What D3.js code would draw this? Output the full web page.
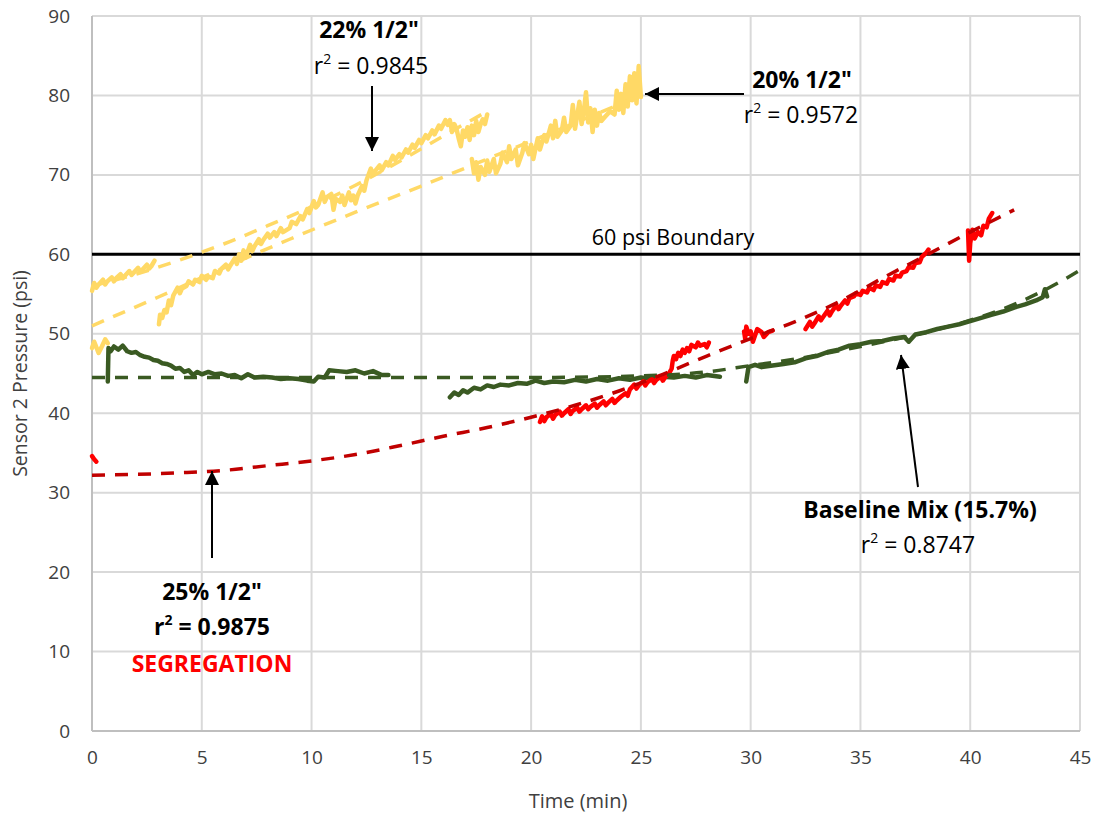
<!DOCTYPE html>
<html><head><meta charset="utf-8">
<script src="https://cdn.jsdelivr.net/npm/d3@7"></script>
<style>body{margin:0;background:#fff}svg{display:block}text{font-family:"Open Sans",sans-serif}</style>
</head><body><div id="chart"></div>
<script>
// ---------- DATA ----------
const xTicks = [0,5,10,15,20,25,30,35,40,45];
const yTicks = [0,10,20,30,40,50,60,70,80,90];
const boundaryPsi = 60;

// 22% 1/2" (yellow)
const mix22_a = [[0,55.4],[0.1,56.4],[0.2,55.8],[0.3,56.2],[0.5,56.8],[0.6,56.2],[0.7,56.6],[0.9,57.1],[1.0,56.6],[1.1,57.0],[1.3,57.5],[1.4,57.0],[1.5,57.3],[1.7,57.9],[1.8,57.4],[1.9,57.7],[2.1,58.3],[2.2,57.8],[2.3,58.1],[2.5,58.7],[2.6,58.2],[2.7,58.5],[2.85,59.2]];
const mix22_b = [[3.05,51.2],[3.1,52.4],[3.2,52.0],[3.3,53.0],[3.4,52.7],[3.5,54.2],[3.6,53.6],[3.7,54.8],[3.9,55.8],[4.0,55.1],[4.1,55.7],[4.3,56.0],[4.4,56.6],[4.6,56.2],[4.7,56.8],[4.9,56.5],[5.0,57.3],[5.2,56.8],[5.3,57.2],[5.5,57.0],[5.6,57.9],[5.8,57.6],[5.9,58.2],[6.1,58.7],[6.2,58.1],[6.3,58.6],[6.5,59.5],[6.6,58.8],[6.7,60.0],[6.8,59.2],[6.9,60.5],[7.0,59.6],[7.2,61.2],[7.3,60.4],[7.4,61.0],[7.6,61.9],[7.7,61.3],[7.8,61.8],[8.0,62.6],[8.1,62.1],[8.3,62.8],[8.4,62.3],[8.6,63.3],[8.7,62.8],[9.0,63.3],[9.1,64.1],[9.3,63.8],[9.5,64.8],[9.6,64.4],[9.8,65.7],[9.9,65.2],[10.1,66.7],[10.2,65.9],[10.3,66.2],[10.5,67.8],[10.6,66.6],[10.7,67.2],[10.9,67.6],[11.0,65.6],[11.1,67.0],[11.3,66.6],[11.4,67.4],[11.5,66.2],[11.7,67.8],[11.8,66.8],[11.9,67.4],[12.0,66.4],[12.1,67.4],[12.3,68.6],[12.4,68.0],[12.5,69.3],[12.7,70.8],[12.8,70.0],[12.9,70.5],[13.1,71.2],[13.2,70.6],[13.4,71.6],[13.5,71.2],[13.7,72.4],[13.8,71.9],[14.0,72.6],[14.1,72.2],[14.3,73.2],[14.4,72.8],[14.6,73.8],[14.7,73.4],[14.9,74.4],[15.0,74.0],[15.2,75.0],[15.3,74.6],[15.5,75.6],[15.6,75.1],[15.8,76.2],[15.9,75.8],[16.1,76.9],[16.2,76.3],[16.3,76.9],[16.4,75.4],[16.5,76.4],[16.6,75.8],[16.7,74.6],[16.8,73.6],[16.9,75.6],[17.0,74.8],[17.1,76.0],[17.2,74.4],[17.3,76.2],[17.4,75.0],[17.5,76.8],[17.6,75.4],[17.7,76.4],[17.8,77.0],[17.9,76.4],[18.0,77.6]];
const trend22 = [[0,56.0],[2,57.5],[4,59.3],[6,61.3],[8,63.6],[10,66.0],[12,68.7],[14,71.7],[16,74.9],[18,78.0]];

// 20% 1/2" (yellow)
const mix20_a = [[0,48.2],[0.1,49.0],[0.3,47.6],[0.45,48.4],[0.6,49.3],[0.72,48.8]];
const mix20_b = [[17.3,72.0],[17.4,70.2],[17.5,71.6],[17.6,69.4],[17.7,71.0],[17.9,70.0],[18.0,71.8],[18.1,70.4],[18.3,72.0],[18.4,70.2],[18.6,71.4],[18.7,72.8],[18.9,71.6],[19.0,73.6],[19.1,72.0],[19.3,73.2],[19.4,71.2],[19.6,72.8],[19.7,74.0],[19.9,72.6],[20.0,73.8],[20.1,72.0],[20.3,74.6],[20.4,73.2],[20.6,75.0],[20.7,74.2],[20.9,76.2],[21.0,74.6],[21.1,76.8],[21.2,74.8],[21.4,75.6],[21.5,77.2],[21.6,75.4],[21.8,76.2],[21.9,78.8],[22.0,75.8],[22.2,79.2],[22.3,76.4],[22.4,78.0],[22.5,80.4],[22.6,76.6],[22.7,78.4],[22.8,75.4],[22.9,78.2],[23.0,76.2],[23.1,77.8],[23.2,76.8],[23.4,77.4],[23.6,78.0],[23.8,77.6],[23.9,80.6],[24.0,78.2],[24.1,80.2],[24.2,77.8],[24.3,81.4],[24.4,78.6],[24.5,82.4],[24.6,79.4],[24.7,82.8],[24.8,79.0],[24.9,83.7],[25.0,79.8]];
const trend20 = [[0,51.0],[3,54.6],[6,58.3],[9,61.9],[12,65.3],[15,68.6],[18,72.0],[21,75.4],[25,80.0]];

// 25% 1/2" (red)
const mix25_a = [[0,34.6],[0.1,34.2],[0.2,33.9]];
const mix25_b = [[20.4,38.9],[20.5,39.6],[20.6,39.0],[20.7,39.5],[20.9,39.9],[21.0,39.3],[21.1,39.8],[21.3,40.2],[21.4,39.7],[21.5,40.0],[21.7,40.5],[21.8,39.9],[21.9,40.3],[22.1,40.7],[22.2,40.2],[22.3,40.5],[22.5,41.0],[22.6,40.5],[22.7,40.8],[22.9,41.2],[23.0,40.7],[23.1,41.0],[23.3,41.5],[23.4,41.0],[23.5,41.3],[23.7,41.8],[23.8,41.3],[23.9,41.6],[24.1,42.1],[24.3,42.5],[24.4,42.2],[24.5,43.0],[24.7,43.6],[24.8,43.1],[24.9,43.5],[25.1,44.0],[25.2,43.5],[25.3,43.9],[25.5,44.3],[25.6,43.8],[25.7,44.2],[25.9,44.6],[26.0,44.1],[26.1,44.5],[26.3,45.1],[26.4,45.6],[26.45,46.6],[26.5,47.2],[26.6,46.8],[26.7,47.6],[26.8,47.2],[26.9,48.0],[27.0,47.6],[27.1,48.2],[27.2,47.8],[27.3,48.6],[27.5,48.3],[27.6,48.9],[27.7,48.5],[27.9,48.7],[28.0,48.3],[28.1,48.9]];
const mix25_c = [[29.7,50.3],[29.75,49.4],[29.8,50.9],[29.9,50.0],[30.0,50.3],[30.1,49.0],[30.3,50.6],[30.5,50.2],[30.6,49.6],[30.8,50.2],[31.0,50.4]];
const mix25_d = [[32.5,50.6],[32.7,51.5],[32.8,50.9],[32.9,51.3],[33.1,52.2],[33.2,51.7],[33.3,52.1],[33.5,52.9],[33.6,52.3],[33.7,52.8],[33.9,53.6],[34.0,53.1],[34.1,53.5],[34.3,54.2],[34.4,53.8],[34.5,54.5],[34.7,54.7],[34.8,55.1],[35.0,54.9],[35.1,55.4],[35.3,55.2],[35.4,55.8],[35.6,55.5],[35.7,56.1],[35.9,55.9],[36.0,56.5],[36.2,56.3],[36.3,56.9],[36.5,56.7],[36.6,57.3],[36.8,57.2],[36.9,57.7],[37.1,57.9],[37.2,58.4],[37.4,58.3],[37.5,58.9],[37.7,59.0],[37.8,59.7],[38.0,60.2],[38.1,60.6]];
const mix25_e = [[39.9,63.0],[39.95,59.2],[40.0,61.4],[40.1,63.1],[40.2,62.0],[40.35,62.8],[40.5,62.4],[40.6,63.6],[40.75,63.4],[40.85,64.5],[41.0,65.2]];
const trend25 = [[0,32.2],[2,32.3],[4,32.5],[6,32.8],[8,33.4],[10,34.0],[12,34.8],[14,35.9],[16,37.1],[18,38.2],[20,39.5],[22,41.0],[24,42.8],[26,44.9],[28,47.2],[30,49.4],[32,51.5],[34,54.0],[36,57.0],[38,59.9],[40,62.8],[42,65.6]];

// Baseline Mix 15.7% (green)
const base_a = [[0.72,44.0],[0.75,48.2],[0.85,47.8],[1.0,48.4],[1.2,48.0],[1.4,48.5],[1.6,47.8],[1.8,47.6],[2.0,47.7],[2.2,47.3],[2.4,47.1],[2.6,47.0],[2.8,46.7],[3.0,46.6],[3.2,46.3],[3.4,46.2],[3.6,46.0],[3.8,45.6],[4.0,45.7],[4.2,45.2],[4.4,45.4],[4.6,44.8],[4.8,45.2],[5.0,44.9],[5.3,45.2],[5.6,44.9],[5.9,45.0],[6.2,44.7],[6.5,44.8],[6.8,44.4],[7.1,44.9],[7.4,44.5],[7.8,44.6],[8.2,44.5],[8.6,44.3],[9.0,44.4],[9.4,44.3],[9.8,44.1],[10.1,44.0],[10.3,44.6],[10.6,44.5],[10.8,45.4],[11.2,45.3],[11.6,45.2],[12.0,45.4],[12.4,45.0],[12.8,45.3],[13.2,44.8],[13.5,44.8]];
const base_b = [[16.3,42.0],[16.5,42.6],[16.7,42.3],[16.9,42.9],[17.1,42.6],[17.4,43.2],[17.7,43.0],[18.0,43.5],[18.3,43.3],[18.6,43.6],[19.0,43.5],[19.4,43.8],[19.8,43.7],[20.2,44.1],[20.6,43.8],[21.0,44.0],[21.5,43.9],[22.0,44.2],[22.5,44.0],[23.0,44.3],[23.5,44.1],[24.0,44.4],[24.5,44.2],[25.0,44.5],[25.5,44.3],[26.0,44.6],[26.5,44.5],[27.0,44.7],[27.5,44.5],[28.0,44.8],[28.6,44.6]];
const base_c = [[29.8,44.0],[29.9,45.8],[30.2,46.1],[30.5,45.8],[31.0,46.0],[31.5,46.2],[32.0,46.4],[32.5,46.9],[33.0,47.2],[33.5,47.7],[34.0,48.0],[34.5,48.5],[35.0,48.7],[35.5,49.0],[36.0,49.1],[36.5,49.4],[37.0,49.6],[37.2,49.0],[37.5,49.9],[38.0,50.2],[38.5,50.6],[39.0,50.9],[39.5,51.2],[40.0,51.6],[40.5,52.0],[41.0,52.4],[41.5,52.8],[42.0,53.3],[42.5,53.7],[43.0,54.2],[43.3,54.6],[43.4,55.6],[43.5,54.7]];
const trendBase = [[0,44.5],[5,44.5],[10,44.5],[15,44.5],[20,44.5],[25,44.7],[28,45.2],[30,46.0],[32,46.8],[35,48.4],[38,50.2],[40,51.7],[42,53.7],[44,56.4],[45,58.0]];

// ---------- CHART ----------
const W = 1101, H = 816;
const m = {left: 92, right: 21, top: 16, bottom: 85};
const svg = d3.select("#chart").append("svg").attr("width", W).attr("height", H);
const x = d3.scaleLinear().domain([0,45]).range([m.left, W - m.right]);
const y = d3.scaleLinear().domain([0,90]).range([H - m.bottom, m.top]);

const defs = svg.append("defs");
defs.append("marker").attr("id","arr").attr("viewBox","0 0 10 10").attr("refX",10).attr("refY",5)
  .attr("markerWidth",7).attr("markerHeight",7).attr("markerUnits","strokeWidth").attr("orient","auto")
  .append("path").attr("d","M0,0 L10,5 L0,10 Z").attr("fill","#000");

// gridlines
svg.append("g").selectAll("line").data(yTicks.slice(1)).join("line")
  .attr("x1", x(0)).attr("x2", x(45)).attr("y1", d=>y(d)).attr("y2", d=>y(d))
  .attr("stroke","#d9d9d9").attr("stroke-width",2);
svg.append("g").selectAll("line").data(xTicks.slice(1)).join("line")
  .attr("x1", d=>x(d)).attr("x2", d=>x(d)).attr("y1", y(0)).attr("y2", y(90))
  .attr("stroke","#d9d9d9").attr("stroke-width",2);
svg.append("line").attr("x1",x(0)).attr("x2",x(0)).attr("y1",y(0)).attr("y2",y(90)).attr("stroke","#bfbfbf").attr("stroke-width",2);
svg.append("line").attr("x1",x(0)).attr("x2",x(45)).attr("y1",y(0)).attr("y2",y(0)).attr("stroke","#bfbfbf").attr("stroke-width",2);

const yAxis = svg.append("g").attr("transform",`translate(${x(0)},0)`)
  .call(d3.axisLeft(y).tickValues(yTicks).tickSize(0).tickPadding(22));
yAxis.select(".domain").remove();
yAxis.selectAll("text").attr("font-size",19).attr("fill","#404040").style("font-family","Open Sans");
const xAxis = svg.append("g").attr("transform",`translate(0,${y(0)})`)
  .call(d3.axisBottom(x).tickValues(xTicks).tickSize(0).tickPadding(20));
xAxis.select(".domain").remove();
xAxis.selectAll("text").attr("font-size",19).attr("fill","#404040").style("font-family","Open Sans");

svg.append("text").attr("x",(x(0)+x(45))/2 - 8).attr("y",808).attr("text-anchor","middle")
  .attr("font-size",20).attr("fill","#404040").text("Time (min)");
svg.append("text").attr("transform",`translate(27,${(y(0)+y(90))/2}) rotate(-90)`).attr("text-anchor","middle")
  .attr("font-size",19.5).attr("fill","#404040").text("Sensor 2 Pressure (psi)");

// 60 psi boundary
svg.append("line").attr("x1",x(0)).attr("x2",x(45)).attr("y1",y(boundaryPsi)).attr("y2",y(boundaryPsi))
  .attr("stroke","#000").attr("stroke-width",3);
svg.append("text").attr("x",673).attr("y",y(boundaryPsi)-9).attr("text-anchor","middle")
  .attr("font-size",21.5).attr("fill","#000").text("60 psi Boundary");

const line = d3.line().x(d=>x(d[0])).y(d=>y(d[1]));
const YEL = "#ffd966", GRN = "#3a5a22", RED = "#ff0000", DRED = "#c00000";
function data(seg, c){ svg.append("path").datum(seg).attr("d",line).attr("fill","none")
  .attr("stroke",c).attr("stroke-width",4.5).attr("stroke-linejoin","round").attr("stroke-linecap","round"); }
function trend(seg, c){ svg.append("path").datum(seg).attr("d",d3.line().curve(d3.curveMonotoneX).x(d=>x(d[0])).y(d=>y(d[1])))
  .attr("fill","none").attr("stroke",c).attr("stroke-width",3.5).attr("stroke-dasharray","13,10"); }

[base_a, base_b, base_c].forEach(s=>data(s,GRN));
[mix25_a, mix25_b, mix25_c, mix25_d, mix25_e].forEach(s=>data(s,RED));
[mix22_a, mix22_b].forEach(s=>data(s,YEL));
[mix20_a, mix20_b].forEach(s=>data(s,YEL));
trend(trendBase, GRN);
trend(trend25, DRED);
trend(trend22, YEL);
trend(trend20, YEL);

// annotations
function arrow(x1,y1,x2,y2){ svg.append("line").attr("x1",x1).attr("y1",y1).attr("x2",x2).attr("y2",y2)
  .attr("stroke","#000").attr("stroke-width",2).attr("marker-end","url(#arr)"); }
function label(cx, by, txt, opts={}){
  return svg.append("text").attr("x",cx).attr("y",by).attr("text-anchor","middle")
    .attr("font-size",opts.size||23).attr("font-weight",opts.bold?"bold":"normal").attr("fill",opts.color||"#000").text(txt);
}
function r2(cx, by, val, bold){
  const t = label(cx, by, "", {bold:bold});
  t.append("tspan").text("r");
  t.append("tspan").attr("dy",-10).attr("font-size",14).text("2");
  t.append("tspan").attr("dy",10).text(" = " + val);
}
label(369, 38, "22% 1/2\"", {bold:true});
r2(371, 74, "0.9845");
arrow(372, 86, 372, 151);

label(802, 88, "20% 1/2\"", {bold:true});
r2(801, 123, "0.9572");
arrow(744, 94, 645, 94);

label(212, 600, "25% 1/2\"", {bold:true});
r2(212, 635, "0.9875", true);
label(212, 672, "SEGREGATION", {bold:true, color:"#ff0000"});
arrow(212, 558, 212, 471);

label(920, 518, "Baseline Mix (15.7%)", {bold:true});
r2(918, 553, "0.8747");
arrow(918, 487, 901, 355);
</script></body></html>
